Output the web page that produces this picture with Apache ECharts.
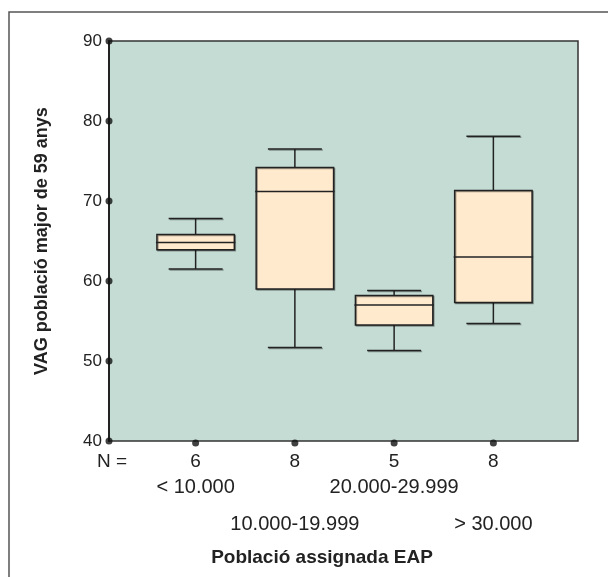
<!DOCTYPE html>
<html>
<head>
<meta charset="utf-8">
<script src="https://cdn.jsdelivr.net/npm/echarts@6/dist/echarts.min.js"></script>
<style>
  html, body { margin: 0; padding: 0; background: #fff; }
  #chart { width: 608px; height: 577px; }
</style>
</head>
<body>
<div id="chart"></div>
<script>
// grups de població assignada i mida de cada grup
const groups = ['< 10.000', '10.000-19.999', '20.000-29.999', '> 30.000']
const counts = ['6', '8', '5', '8']

// resum del box plot (llegit del gràfic)
const lowWhisker = [61.5, 51.7, 51.3, 54.7]
const q1 = [63.9, 59.0, 54.5, 57.3]
const medians = [64.8, 71.2, 57.0, 63.0]
const q3 = [65.8, 74.2, 58.2, 71.3]
const highWhisker = [67.8, 76.5, 58.8, 78.1]

const yTicks = [40, 50, 60, 70, 80, 90]

const yTitle = 'VAG població major de 59 anys'
const xTitle = 'Població assignada EAP'

const ink = '#222'
const font = 'Liberation Sans, Arial, sans-serif'

const boxData = groups.map((g, i) => [i, lowWhisker[i], q1[i], medians[i], q3[i], highWhisker[i]])

const chart = echarts.init(document.getElementById('chart'), null, { renderer: 'canvas' })

const renderBox = (params, api) => {
  const i = api.value(0)
  const x = api.coord([i, 0])[0]
  const band = api.size([1, 0])[0]
  const half = band * 0.39
  const cap = band * 0.272
  const y = k => api.coord([i, api.value(k)])[1]
  const yMin = y(1), yQ1 = y(2), yMed = y(3), yQ3 = y(4), yMax = y(5)
  const line = { stroke: ink, lineWidth: 1.5 }
  const shadow = { shadowColor: 'rgba(0,0,0,0.35)', shadowOffsetX: 1, shadowOffsetY: 1, shadowBlur: 0 }
  return {
    type: 'group',
    children: [
      { type: 'line', shape: { x1: x, y1: yMax, x2: x, y2: yQ3 }, style: line },
      { type: 'line', shape: { x1: x, y1: yQ1, x2: x, y2: yMin }, style: line },
      { type: 'line', shape: { x1: x - cap, y1: yMax, x2: x + cap, y2: yMax }, style: Object.assign({}, line, shadow) },
      { type: 'line', shape: { x1: x - cap, y1: yMin, x2: x + cap, y2: yMin }, style: Object.assign({}, line, shadow) },
      { type: 'rect', shape: { x: x - half, y: yQ3, width: half * 2, height: yQ1 - yQ3 },
        style: Object.assign({ fill: '#ffeacd', stroke: ink, lineWidth: 1.5 }, shadow) },
      { type: 'line', shape: { x1: x - half - 1, y1: yMed, x2: x + half + 1, y2: yMed }, style: line }
    ]
  }
}

const hiddenCat = (data, margin, size, keep) => ({
  gridIndex: 1, type: 'category', position: 'bottom', data: data,
  axisLine: { show: false }, axisTick: { show: false },
  axisLabel: { interval: 0, margin: margin, fontSize: size, color: ink, fontFamily: font,
    formatter: (v, i) => (keep(i) ? v : '') }
})

chart.setOption({
  animation: false,
  grid: [
    { left: 109, top: 41, width: 469, height: 400, show: true, backgroundColor: '#c5dcd4', borderColor: '#333', borderWidth: 1.5, outerBoundsMode: 'none' },
    { left: 146, top: 41, width: 397, height: 400, outerBoundsMode: 'none' }
  ],
  xAxis: [
    { gridIndex: 0, type: 'value', min: 0, max: 1, show: false },
    hiddenCat(counts, 11, 19, () => true),
    hiddenCat(groups, 36, 20, i => i % 2 === 0),
    hiddenCat(groups, 73, 20, i => i % 2 === 1)
  ],
  yAxis: [
    {
      gridIndex: 0, type: 'value', min: 40, max: 90, interval: 10,
      axisLine: { show: true, lineStyle: { color: ink, width: 2 } },
      axisTick: { show: false }, splitLine: { show: false },
      axisLabel: { margin: 7, fontSize: 17, color: ink, fontFamily: font },
      name: yTitle, nameLocation: 'middle', nameGap: 58,
      nameTextStyle: { fontSize: 18, fontWeight: 'bold', color: ink, fontFamily: font }
    },
    { gridIndex: 1, type: 'value', min: 40, max: 90, show: false }
  ],
  series: [
    {
      type: 'scatter', xAxisIndex: 0, yAxisIndex: 0, clip: false,
      symbolSize: 7, itemStyle: { color: '#111' },
      data: yTicks.map(v => [0, v])
    },
    {
      type: 'scatter', xAxisIndex: 1, yAxisIndex: 1, clip: false,
      symbolSize: 7, symbolOffset: [0, 2], itemStyle: { color: '#111' },
      data: groups.map((g, i) => [i, yTicks[0]])
    },
    {
      type: 'custom', xAxisIndex: 1, yAxisIndex: 1,
      renderItem: renderBox,
      data: boxData
    }
  ],
  graphic: [
    { type: 'polyline', shape: { points: [[9, 577], [9, 12], [608, 12]] }, style: { stroke: '#555', lineWidth: 1.5, fill: null } },
    { type: 'text', x: 112, y: 462, style: { text: 'N =', fontSize: 19, fill: ink, fontFamily: font, textAlign: 'center', textVerticalAlign: 'middle' } },
    { type: 'text', x: 322, y: 558, style: { text: xTitle, fontSize: 19, fontWeight: 'bold', fill: ink, fontFamily: font, textAlign: 'center', textVerticalAlign: 'middle' } }
  ]
})

window.addEventListener('resize', () => chart.resize())
</script>
</body>
</html>
